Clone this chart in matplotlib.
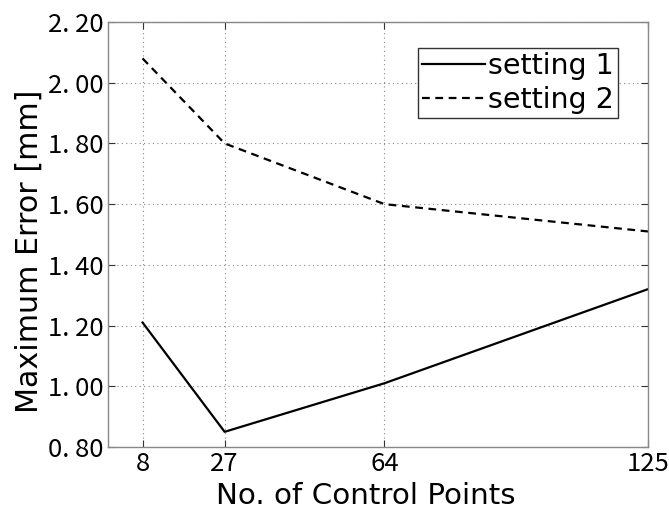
import matplotlib
matplotlib.use("Agg")
import matplotlib.pyplot as plt

control_points = [8, 27, 64, 125]
setting1 = [1.21, 0.85, 1.01, 1.32]
setting2 = [2.08, 1.80, 1.60, 1.51]
xtick_labels = ["8", "27", "64", "125"]
yticks = [0.80, 1.00, 1.20, 1.40, 1.60, 1.80, 2.00, 2.20]
ytick_labels = ["0. 80", "1. 00", "1. 20", "1. 40", "1. 60", "1. 80", "2. 00", "2. 20"]

fig = plt.figure(figsize=(6.69, 5.11), dpi=100)
ax = fig.add_axes([108/669, 1 - 447/511, (648-108)/669, (447-22)/511])

ax.plot(control_points, setting1, color="black", lw=1.6, ls="-", label="setting 1")
ax.plot(control_points, setting2, color="black", lw=1.6, ls=(0, (3.5, 2.5)), label="setting 2")

ax.set_xlim(0, 125)
ax.set_ylim(0.8, 2.2)
ax.set_xticks(control_points)
ax.set_xticklabels(xtick_labels, family=["Noto Sans CJK JP", "DejaVu Sans"], fontsize=18.5)
ax.set_yticks(yticks)
ax.set_yticklabels(ytick_labels, family=["Noto Sans CJK JP", "DejaVu Sans"], fontsize=18.5)
ax.tick_params(direction="in", top=True, right=True, length=5, color="#333333", pad=3)
ax.grid(True, ls=(0, (1, 3)), color="#888888", lw=0.8)
for s in ax.spines.values():
    s.set_color("#888888")
    s.set_linewidth(1.0)

ax.set_xlabel("No. of Control Points", fontsize=21.2)
ax.xaxis.set_label_coords(0.478, -0.083)
ax.set_ylabel("Maximum Error [mm]", fontsize=21.7)
ax.yaxis.set_label_coords(-0.12, 0.461)

leg = ax.legend(loc="upper right", bbox_to_anchor=(0.944, 0.939), fontsize=20.5,
                handlelength=2.2, handletextpad=0.1, borderpad=0.15, labelspacing=0.2,
                fancybox=False, framealpha=1, edgecolor="#333333", borderaxespad=0)
leg.get_frame().set_linewidth(1.0)

fig.savefig("out.png", dpi=100)
